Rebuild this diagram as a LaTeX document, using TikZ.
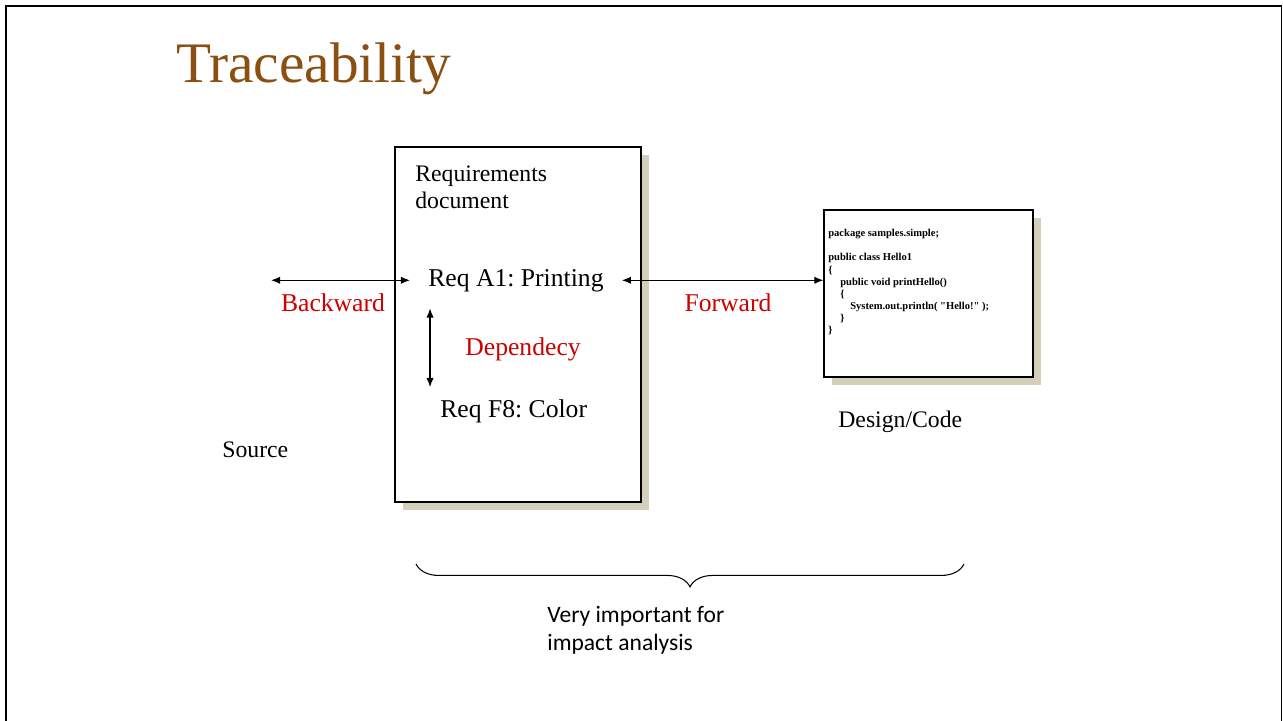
\documentclass[tikz,border=0pt]{standalone}
\usepackage{fontspec}
\setmainfont{Liberation Serif}
\newfontfamily\calibri{Carlito}
\usetikzlibrary{arrows.meta,shadows,decorations.pathreplacing}

\definecolor{titlebrown}{RGB}{139,79,18}
\definecolor{tracered}{RGB}{204,0,0}
\definecolor{shadowtan}{RGB}{212,207,186}

\begin{document}
\frenchspacing
\begin{tikzpicture}[
    x=0.02cm, y=-0.02cm,
    doc/.style={draw, line width=0.65pt, fill=white, drop shadow={shadow xshift=4.6pt, shadow yshift=-4.6pt, fill=shadowtan, opacity=1}},
    req/.style={font=\fontsize{14.6}{17}\selectfont, inner xsep=10.2pt},
    lbl/.style={font=\fontsize{13.5}{15.4}\selectfont, inner sep=0pt},
    trace/.style={font=\fontsize{14.6}{17}\selectfont, text=tracered, inner sep=0pt},
    arr/.style={{Latex[length=5.2pt,width=4.2pt]}-{Latex[length=5.2pt,width=4.2pt]}, line width=0.7pt}
]
\useasboundingbox (0,0) rectangle (1283,720);

% slide frame
\draw[line width=1.3pt] (6,725) -- (6,6) -- (1281.5,6);
\draw[line width=0.8pt] (1281.5,6) -- (1281.5,725);

\node[anchor=base west, font=\fontsize{32.6}{38}\selectfont, text=titlebrown, inner sep=0pt] (title) at (176,82.7) {Traceability};

% the two documents
\node[doc, minimum width=4.92cm, minimum height=7.1cm] (req) at (518,324.5) {};
\node[doc, minimum width=4.18cm, minimum height=3.34cm] (code) at (928.5,293.5) {};

\node[lbl, anchor=north west, align=left] (reqTitle) at (415,165) {Requirements\\document};
\node[req, anchor=base west, inner ysep=9.4pt] (reqA) at (410,286) {Req A1: Printing};
\node[req, anchor=base west, inner ysep=6.7pt] (reqF) at (422,417) {Req F8: Color};

\node[anchor=north west, inner sep=0pt, align=left, font=\fontsize{6}{6.9}\selectfont\bfseries] (codeText) at (828,229)
  {package samples.simple;\\[6.9pt]
   public class Hello1\\
   \{\\
   \hspace*{6.8pt}public void printHello()\\
   \hspace*{6.8pt}\{\\
   \hspace*{12.5pt}System.out.println( \textquotedbl Hello!\textquotedbl\ );\\
   \hspace*{6.8pt}\}\\
   \}};

% labels
\node[trace, anchor=base] (back) at (333,311) {Backward};
\node[trace, anchor=base] (fwd) at (728,311) {Forward};
\node[trace, anchor=base west] (dep) at (465,355) {Dependecy};
\node[lbl, anchor=base west] (src) at (222,457) {Source};
\node[lbl, anchor=base west] (design) at (838,427) {Design/Code};

% trace links
\coordinate (srcEnd) at (271,0);
\draw[arr] (srcEnd |- reqA.west) -- (reqA.west);
\draw[arr] (reqA.east) -- (code.west |- reqA.east);
\draw[arr] ([xshift=11.4pt]reqA.south west) coordinate (depTop) -- (depTop |- reqF.north);

% impact brace
\coordinate (braceR) at (964,564);
\coordinate (braceL) at (416,564);
\draw[decorate, decoration={brace, amplitude=13pt}, line width=0.6pt] (braceR) -- (braceL);
\node[anchor=north west, inner sep=0pt, align=left, font=\calibri\fontsize{13.4}{15.9}\selectfont] (impact) at (547,606)
  {Very important for\\impact analysis};
\end{tikzpicture}
\end{document}
